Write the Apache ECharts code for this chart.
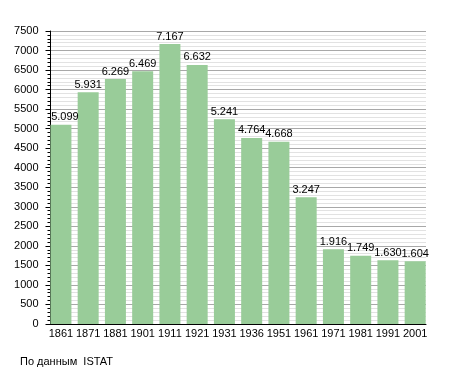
<!DOCTYPE html>
<html>
<head>
<meta charset="utf-8">
<script src="https://cdn.jsdelivr.net/npm/echarts@6/dist/echarts.min.js"></script>
<style>html,body{margin:0;padding:0;background:#fff}#c{width:455px;height:373px}</style>
</head>
<body>
<div id="c"></div>
<script>
const years = ['1861','1871','1881','1901','1911','1921','1931','1936','1951','1961','1971','1981','1991','2001'];
const population = [5099, 5931, 6269, 6469, 7167, 6632, 5241, 4764, 4668, 3247, 1916, 1749, 1630, 1604];
const yTicks = [0, 500, 1000, 1500, 2000, 2500, 3000, 3500, 4000, 4500, 5000, 5500, 6000, 6500, 7000, 7500];
const sourceNote = 'По данным  ISTAT';

const font = 'Liberation Sans, Arial, sans-serif';
const fmt = v => String(v).replace(/\B(?=(\d{3})+(?!\d))/g, '.');

const barData = population.map((v, i) => i === 0 ? {value: v, label: {offset: [4, 0]}} : v);

const chart = echarts.init(document.getElementById('c'), null, {renderer: 'canvas'});
chart.setOption({
  animation: false,
  backgroundColor: '#fff',
  title: {
    text: sourceNote, left: 20, top: 356, padding: 0,
    textStyle: {fontFamily: font, fontSize: 11, fontWeight: 'normal', color: '#000'}
  },
  grid: [
    {left: 50.5, right: 29, top: 31, bottom: 49},
    {left: 47.3, right: 26.2, top: 31, bottom: 49}
  ],
  xAxis: [
    {type: 'category', gridIndex: 0, data: years, show: true,
     axisLine: {show: true, lineStyle: {color: '#000', width: 1}},
     axisTick: {show: false}, axisLabel: {show: false}, splitLine: {show: false}},
    {type: 'category', gridIndex: 1, data: years,
     axisLine: {show: false}, axisTick: {show: false},
     axisLabel: {margin: 4, fontFamily: font, fontSize: 11, color: '#000', interval: 0}}
  ],
  yAxis: [
    {type: 'value', gridIndex: 0, min: yTicks[0], max: yTicks[yTicks.length - 1], interval: 500,
     axisLine: {show: true, lineStyle: {color: '#000'}},
     axisTick: {show: true, length: 5, lineStyle: {color: '#000'}},
     minorTick: {show: true, splitNumber: 5, length: 3, lineStyle: {color: '#000'}},
     axisLabel: {margin: 12, fontFamily: font, fontSize: 11, color: '#000', formatter: v => String(v)},
     splitLine: {show: true, lineStyle: {color: '#a8a8a8', width: 1}},
     minorSplitLine: {show: true, lineStyle: {color: '#e2e2e2', width: 1}}},
    {type: 'value', gridIndex: 1, min: yTicks[0], max: yTicks[yTicks.length - 1], interval: 500, show: false,
     splitLine: {show: false}}
  ],
  series: [{
    type: 'bar', xAxisIndex: 1, yAxisIndex: 1,
    data: barData, barWidth: 21,
    itemStyle: {color: '#99cc99'},
    label: {show: true, position: 'top', distance: 2, fontFamily: font, fontSize: 11, color: '#000',
            formatter: p => fmt(p.value)}
  }]
});
</script>
</body>
</html>
